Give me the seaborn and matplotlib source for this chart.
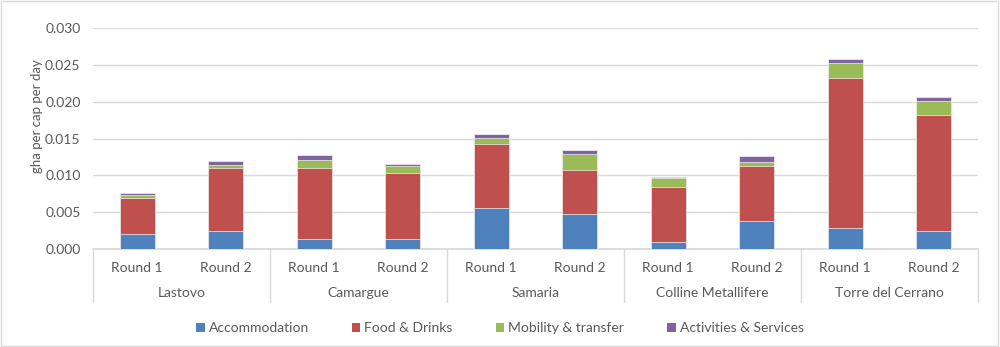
import numpy as np
import pandas as pd
import matplotlib
matplotlib.use("Agg")
import matplotlib.pyplot as plt
import matplotlib.transforms as mtransforms
from matplotlib.patches import Rectangle, Patch
import seaborn as sns

sites = ["Lastovo", "Camargue", "Samaria", "Colline Metallifere", "Torre del Cerrano"]
rounds = ["Round 1", "Round 2"]
accommodation = [0.0020, 0.0024, 0.0014, 0.0014, 0.0056, 0.0048, 0.0009, 0.0038, 0.0028, 0.0025]
food_drinks = [0.0049, 0.0086, 0.0096, 0.0089, 0.0086, 0.0059, 0.0075, 0.0074, 0.0204, 0.0157]
mobility = [0.0004, 0.00045, 0.0011, 0.0009, 0.0009, 0.0022, 0.0012, 0.0006, 0.0021, 0.0019]
activities = [0.00035, 0.00045, 0.0006, 0.0004, 0.0005, 0.0006, 0.0002, 0.0008, 0.0005, 0.0005]
series_names = ["Accommodation", "Food & Drinks", "Mobility & transfer", "Activities & Services"]
colors = ["#4F81BD", "#C0504D", "#9BBB59", "#8064A2"]
yticks = [0.000, 0.005, 0.010, 0.015, 0.020, 0.025, 0.030]

sns.set_theme(style="white")
plt.rcParams["font.family"] = ["Lato", "DejaVu Sans"]
text_color = "#595959"

keys = [f"{s}|{r}" for s in sites for r in rounds]
df = pd.DataFrame({
    "key": keys,
    "Accommodation": accommodation,
    "Food & Drinks": food_drinks,
    "Mobility & transfer": mobility,
    "Activities & Services": activities,
})
cum = df[series_names].cumsum(axis=1)

fig = plt.figure(figsize=(10, 3.47), dpi=100)
ax = fig.add_axes([0.093, 1 - 249 / 347, 0.978 - 0.093, (249 - 28) / 347])

for name, col in reversed(list(zip(series_names, colors))):
    sns.barplot(x=df["key"], y=cum[name], order=keys, color=col, width=0.4,
                saturation=1, edgecolor="#f2f2f2", linewidth=0.5, ax=ax, zorder=3)

ax.set_ylim(0, 0.030)
ax.set_xlim(-0.5, len(keys) - 0.5)
ax.set_yticks(yticks)
ax.set_yticklabels([f"{v:.3f}" for v in yticks], color=text_color, fontsize=10)
ax.yaxis.grid(True, color="#D9D9D9", linewidth=1, zorder=0)
ax.set_axisbelow(True)
for sp in ["top", "right", "left"]:
    ax.spines[sp].set_visible(False)
ax.spines["bottom"].set_color("#D9D9D9")
ax.tick_params(axis="both", length=0, pad=9)
ax.set_xlabel("")
ax.set_ylabel("gha per cap per day", color=text_color, fontsize=9.5)
ax.yaxis.set_label_coords(-0.057, 0.6)

ax.set_xticks(range(len(keys)))
ax.set_xticklabels([""] * len(keys))
trans = mtransforms.blended_transform_factory(ax.transData, ax.transAxes)
for i, k in enumerate(keys):
    ax.text(i, -19 / 221, k.split("|")[1], transform=trans, ha="center", va="center",
            color=text_color, fontsize=10)
for j, s in enumerate(sites):
    ax.text(2 * j + 0.5, -44 / 221, s, transform=trans, ha="center", va="center",
            color=text_color, fontsize=10)
for b in np.arange(-0.5, len(keys), 2):
    ax.plot([b, b], [0, -53 / 221], transform=trans, color="#D9D9D9", lw=1, clip_on=False)

handles = [Patch(facecolor=c, edgecolor="none") for c in colors]
leg = fig.legend(handles, series_names, loc="center", bbox_to_anchor=(0.5, 1 - 328 / 347),
                 ncol=4, frameon=False, fontsize=10, handlelength=0.6, handleheight=0.6,
                 handletextpad=0.3, columnspacing=3.1)
for t in leg.get_texts():
    t.set_color(text_color)

fig.patches.append(Rectangle((0.001, 0.002), 0.997, 0.995, transform=fig.transFigure,
                             fill=False, edgecolor="#D9D9D9", lw=1))

fig.savefig("out.png", dpi=100, facecolor="white")
